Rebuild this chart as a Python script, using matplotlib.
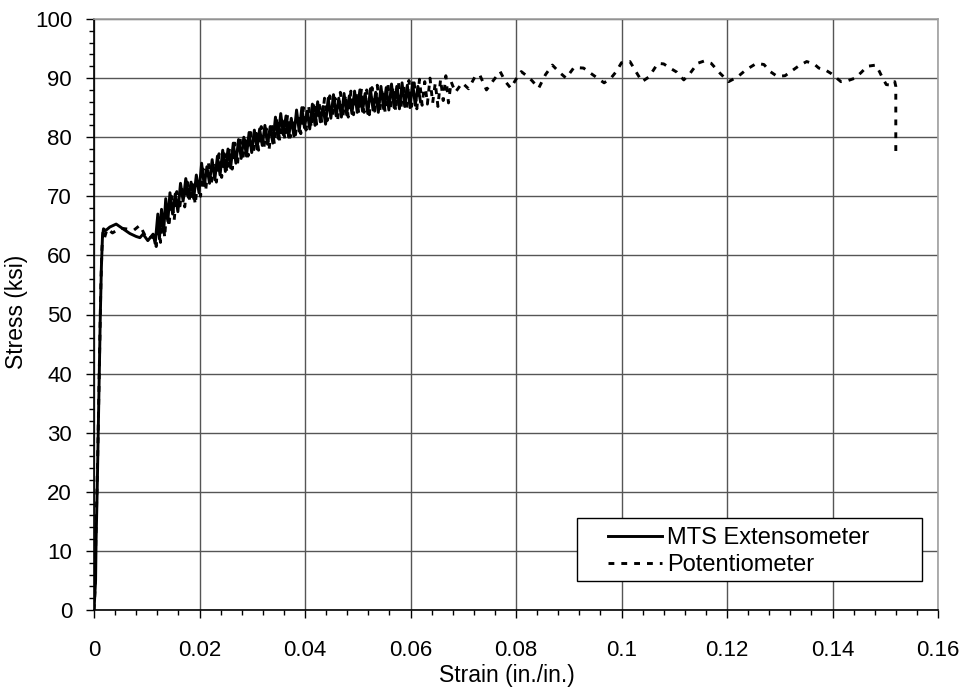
import numpy as np
import matplotlib
matplotlib.use("Agg")
import matplotlib.pyplot as plt
from matplotlib.ticker import MultipleLocator
from matplotlib.patches import Rectangle

plt.rcParams['font.family'] = ['Liberation Sans', 'DejaVu Sans']

# MTS extensometer (solid) - strain (in./in.), stress (ksi)
mts_strain = [0.0, 0.0003, 0.0004, 0.0006, 0.0008, 0.0010, 0.0012, 0.0014, 0.0016, 0.0018,
              0.0022, 0.0030, 0.0042, 0.0055, 0.0068, 0.0080, 0.0087, 0.0093, 0.0102, 0.0112,
              0.0116, 0.0121, 0.0124, 0.0128, 0.0132, 0.0136, 0.0140, 0.0144, 0.0149, 0.0154,
              0.0159, 0.0164, 0.0169, 0.0174, 0.0179, 0.0184, 0.0189, 0.0194, 0.0199, 0.0204,
              0.0209, 0.0214, 0.0219, 0.0224, 0.0229, 0.0234, 0.0239, 0.0244, 0.0249, 0.0254,
              0.0259, 0.0264, 0.0269, 0.0274, 0.0279, 0.0284, 0.0289, 0.0294, 0.0299, 0.0304,
              0.0309, 0.0314, 0.0319, 0.0324, 0.0329, 0.0334, 0.0339, 0.0344, 0.0349, 0.0354,
              0.0359, 0.0364, 0.0369, 0.0374, 0.0379, 0.0384, 0.0389, 0.0394, 0.0399, 0.0404,
              0.0409, 0.0414, 0.0419, 0.0424, 0.0429, 0.0434, 0.0439, 0.0444, 0.0449, 0.0454,
              0.0459, 0.0464, 0.0469, 0.0474, 0.0479, 0.0484, 0.0489, 0.0494, 0.0499, 0.0504,
              0.0509, 0.0514, 0.0519, 0.0524, 0.0529, 0.0534, 0.0539, 0.0544, 0.0549, 0.0554,
              0.0559, 0.0564, 0.0569, 0.0574, 0.0579, 0.0584, 0.0589, 0.0594, 0.0599, 0.0604,
              0.0609, 0.0614, 0.0619]
mts_stress = [0.0, 5.0, 12.0, 20.0, 30.0, 40.0, 50.0, 58.0, 63.0, 64.5,
              64.2, 64.8, 65.3, 64.5, 63.7, 63.2, 63.0, 63.6, 62.5, 63.6,
              62.0, 67.0, 62.8, 67.8, 64.0, 69.6, 65.8, 70.6, 67.0, 70.4,
              67.4, 72.2, 69.2, 73.0, 69.8, 72.4, 69.6, 73.6, 70.6, 75.6,
              71.8, 75.0, 72.2, 76.2, 72.8, 76.8, 73.6, 77.8, 74.2, 78.0,
              74.8, 79.0, 75.6, 79.6, 76.4, 80.0, 76.8, 80.8, 77.4, 81.2,
              78.0, 81.4, 78.6, 82.0, 78.8, 81.8, 79.0, 83.4, 79.8, 84.0,
              80.4, 83.6, 80.0, 83.2, 80.2, 84.6, 81.0, 85.0, 81.6, 84.4,
              81.4, 85.6, 82.0, 86.0, 82.6, 85.2, 82.2, 86.6, 83.2, 87.2,
              83.6, 86.6, 83.4, 87.4, 83.8, 87.0, 84.0, 87.8, 84.2, 88.0,
              84.4, 87.4, 84.0, 88.2, 84.6, 87.6, 84.2, 88.6, 84.8, 88.4,
              84.6, 89.0, 85.0, 88.6, 84.8, 89.2, 85.2, 88.8, 85.0, 89.2,
              85.4, 88.6, 86.0]

# Potentiometer (dashed)
pot_strain = [0.0, 0.0002, 0.0003, 0.0005, 0.0007, 0.0009, 0.0011, 0.0013, 0.0015, 0.0017,
              0.0020, 0.0025, 0.0035, 0.0050, 0.0060, 0.0076, 0.0087, 0.0100, 0.0112, 0.0118,
              0.0122, 0.0126, 0.0130, 0.0134, 0.0138, 0.0142, 0.0147, 0.0152, 0.0157, 0.0162,
              0.0167, 0.0172, 0.0177, 0.0182, 0.0187, 0.0192, 0.0197, 0.0202, 0.0207, 0.0212,
              0.0217, 0.0222, 0.0227, 0.0232, 0.0237, 0.0242, 0.0247, 0.0252, 0.0257, 0.0262,
              0.0267, 0.0272, 0.0277, 0.0282, 0.0287, 0.0292, 0.0297, 0.0302, 0.0307, 0.0312,
              0.0317, 0.0322, 0.0327, 0.0332, 0.0337, 0.0342, 0.0347, 0.0352, 0.0357, 0.0362,
              0.0367, 0.0372, 0.0377, 0.0382, 0.0387, 0.0392, 0.0397, 0.0402, 0.0407, 0.0412,
              0.0417, 0.0422, 0.0427, 0.0432, 0.0437, 0.0442, 0.0447, 0.0452, 0.0457, 0.0462,
              0.0467, 0.0472, 0.0477, 0.0482, 0.0487, 0.0492, 0.0497, 0.0502, 0.0507, 0.0512,
              0.0517, 0.0522, 0.0527, 0.0532, 0.0537, 0.0542, 0.0547, 0.0552, 0.0557, 0.0562,
              0.0567, 0.0572, 0.0577, 0.0582, 0.0587, 0.0592, 0.0597, 0.0602, 0.0607, 0.0612,
              0.0617, 0.0622, 0.0627, 0.0632, 0.0637, 0.0642, 0.0647, 0.0652, 0.0657, 0.0662,
              0.0667, 0.0672, 0.0677, 0.0685, 0.0698, 0.0710, 0.0722, 0.0731, 0.0744, 0.0757,
              0.0770, 0.0780, 0.0790, 0.0800, 0.0810, 0.0820, 0.0830, 0.0843, 0.0856, 0.0869,
              0.0882, 0.0895, 0.0910, 0.0928, 0.0945, 0.0967, 0.0980, 0.0990, 0.1000, 0.1016,
              0.1028, 0.1039, 0.1052, 0.1069, 0.1080, 0.1092, 0.1105, 0.1118, 0.1130, 0.1144,
              0.1157, 0.1170, 0.1187, 0.1203, 0.1220, 0.1236, 0.1256, 0.1270, 0.1282, 0.1295,
              0.1310, 0.1321, 0.1335, 0.1351, 0.1365, 0.1374, 0.1386, 0.1397, 0.1416, 0.1430,
              0.1443, 0.1455, 0.1466, 0.1482, 0.1489, 0.1495, 0.1502, 0.1512, 0.1518, 0.1520,
              0.1520]
pot_stress = [0.0, 3.5, 10.0, 18.0, 26.0, 36.0, 46.0, 55.0, 61.0, 64.0,
              63.0, 64.5, 63.8, 64.6, 64.5, 64.3, 65.1, 62.8, 63.2, 61.5,
              66.4, 62.2, 67.2, 63.0, 68.4, 64.8, 70.0, 66.0, 70.8, 67.6,
              71.6, 68.2, 72.4, 69.0, 72.0, 68.6, 73.2, 70.0, 74.6, 71.2,
              75.6, 71.8, 75.8, 72.4, 77.2, 73.2, 77.2, 74.0, 78.2, 74.6,
              79.0, 75.4, 79.8, 76.0, 80.2, 76.8, 80.8, 77.2, 81.4, 77.8,
              81.8, 78.2, 81.4, 78.0, 82.2, 78.8, 83.4, 79.4, 82.8, 79.6,
              83.8, 80.0, 83.2, 80.4, 84.0, 80.6, 85.0, 81.2, 85.2, 81.6,
              86.0, 82.2, 85.6, 82.4, 86.6, 82.8, 87.0, 83.4, 86.6, 83.0,
              87.6, 83.6, 87.2, 83.4, 87.8, 83.8, 87.4, 84.0, 88.2, 84.2,
              88.0, 83.8, 88.4, 84.4, 88.8, 84.6, 88.2, 84.2, 89.2, 84.8,
              88.6, 84.4, 89.4, 85.0, 89.0, 84.6, 89.6, 85.2, 89.2, 84.8,
              89.8, 85.4, 89.4, 85.6, 90.0, 85.8, 89.2, 85.2, 89.8, 86.2,
              90.4, 85.8, 89.4, 87.6, 89.2, 88.2, 90.2, 90.6, 88.0, 89.6,
              91.1, 89.4, 88.3, 89.8, 91.1, 90.4, 89.6, 88.3, 90.6, 92.2,
              91.0, 90.0, 91.8, 91.7, 90.6, 89.2, 90.0, 91.1, 92.6, 92.8,
              91.0, 89.4, 90.2, 92.5, 92.4, 91.7, 91.0, 89.7, 90.8, 92.5,
              92.9, 92.5, 90.8, 89.4, 90.2, 91.4, 92.5, 92.3, 91.1, 90.3,
              90.4, 91.1, 92.0, 92.8, 92.4, 91.7, 91.4, 90.8, 89.4, 89.6,
              90.0, 91.0, 92.0, 92.2, 91.1, 90.0, 88.9, 88.8, 89.4, 88.6,
              76.5]

fig = plt.figure(figsize=(9.69, 6.94), dpi=100)
ax = fig.add_axes([94/969, 1 - 610/694, 844/969, 591/694])

ax.plot(mts_strain, mts_stress, color='black', lw=2.1,
        label='MTS Extensometer', zorder=3)
ax.plot(pot_strain, pot_stress, color='black', lw=2.1, linestyle=(0, (2, 2.4)),
        dash_capstyle='butt', label='Potentiometer', zorder=3)

ax.set_xlim(0, 0.16)
ax.set_ylim(0, 100)
ax.xaxis.set_minor_locator(MultipleLocator(0.004))
ax.yaxis.set_major_locator(MultipleLocator(10))
ax.yaxis.set_minor_locator(MultipleLocator(2))
ax.set_xticks(np.arange(0, 0.161, 0.02))
ax.set_xticklabels(['0', '0.02', '0.04', '0.06', '0.08', '0.1', '0.12', '0.14', '0.16'])

ax.grid(True, which='major', color='#555555', lw=1.0, zorder=0)
ax.tick_params(which='major', direction='out', length=5.8, width=1, color='black',
               labelsize=16)
ax.tick_params(axis='y', which='major', pad=10)
ax.tick_params(axis='x', which='major', pad=16)
ax.tick_params(which='minor', direction='out', length=3.3, width=1, color='black')

for s in ['top', 'right']:
    ax.spines[s].set_color('#a0a0a0')
    ax.spines[s].set_linewidth(1.2)
for s in ['left', 'bottom']:
    ax.spines[s].set_color('black')
    ax.spines[s].set_linewidth(1.2)

ax.set_xlabel('Strain (in./in.)', fontsize=16.5, va='top')
ax.xaxis.set_label_coords(0.489, -0.0914)
ax.set_ylabel('Stress (ksi)', fontsize=16.5)
ax.yaxis.set_label_coords(-0.0782, 0.505)

# legend frame (Excel-style box) and entries
ax.add_patch(Rectangle((0.5723, 0.0491), 0.4088, 0.1066, transform=ax.transAxes,
                       facecolor='white', edgecolor='black', lw=1.0, zorder=4.5))
leg = ax.legend(loc='upper left', bbox_to_anchor=(0.609, 0.1404), fontsize=17,
                frameon=False, borderpad=0, labelspacing=0.23, handlelength=2.29,
                handletextpad=0.21, borderaxespad=0)
leg.set_zorder(5)

fig.savefig('out.png', dpi=100)
